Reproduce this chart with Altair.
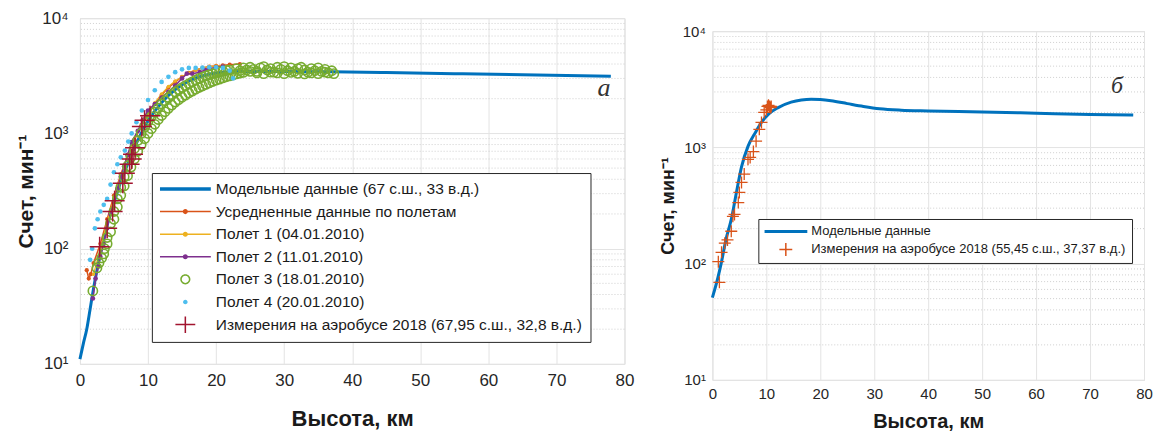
import altair as alt
import pandas as pd

# ---------------- Panel a (left) ----------------
model_a_x = [0, 0.5, 1, 1.5, 2, 2.5, 3, 4, 5, 6, 7, 8, 9, 10, 12, 14, 16, 18, 20, 24, 30, 37, 45, 55, 65, 78]
model_a_y = [11, 15, 20, 30, 45, 65, 90, 160, 250, 380, 540, 750, 1000, 1280, 1850, 2400, 2850, 3150, 3350, 3450, 3450, 3420, 3370, 3300, 3230, 3130]

avg_x = [1, 1.3, 1.6, 2, 3, 4, 5, 6, 7, 8, 9, 10, 11, 12, 13, 14, 15, 16, 17, 18, 19, 20, 21, 22, 23.5]
avg_y = [65, 55, 60, 75, 110, 180, 290, 440, 640, 880, 1150, 1450, 1800, 2150, 2500, 2800, 3100, 3350, 3550, 3700, 3800, 3850, 3900, 3950, 4000]

f1_x = [2, 3, 4, 5, 6, 7, 8, 9, 10, 11, 12, 13, 14, 15, 16, 17, 18, 19, 20, 21]
f1_y = [60, 100, 170, 280, 430, 640, 900, 1200, 1500, 1850, 2200, 2550, 2850, 3100, 3350, 3550, 3700, 3800, 3850, 3850]

f2_x = [1.9, 2.3, 2.7, 3, 3.5, 4, 4.5, 5, 5.5, 6, 6.5, 7, 7.6, 8.5, 9.2, 10, 11, 12, 13, 14, 15, 15.7, 16.5, 17.6, 18.4, 19, 20, 21]
f2_y = [37, 55, 70, 85, 110, 150, 200, 260, 330, 420, 520, 650, 840, 1050, 1300, 1580, 1800, 2050, 2300, 2600, 3000, 3300, 3300, 3400, 3550, 3650, 3750, 3800]

f3_x = [2.5, 3.2, 3.6, 4, 4.5, 5, 5.5, 6, 6.5, 7, 7.5, 8, 8.5, 9, 9.5, 10, 10.5, 11, 11.5, 12,
        12.5, 13, 13.5, 14, 14.5, 15, 15.5, 16, 16.5, 17, 17.5, 18, 18.5, 19, 19.5, 20, 20.5, 21, 21.5, 22,
        1.9, 2.8, 3.5, 4, 4.5, 5, 5.5, 6, 6.5, 7, 7.5, 8, 8.5, 9, 9.5, 10, 10.5, 11, 11.5, 12,
        12.5, 13, 13.5, 14, 14.5, 15, 15.5, 16, 16.5, 17, 17.5, 18, 18.5, 19, 19.5, 20, 20.5, 21, 21.5, 22,
        22.5, 23, 23.5, 24, 25,
        23, 23.5, 24, 24.5, 25, 25.5, 26, 26.5, 27, 27.5, 28, 28.5, 29, 29.5, 30, 30.5, 31, 31.5, 32, 32.5,
        33, 33.5, 34, 34.5, 35, 35.5, 36, 36.5, 37, 37.3,
        26, 27, 28, 29, 30, 31, 32, 33, 34, 35, 36]
f3_y = [68, 83, 100, 125, 165, 210, 270, 340, 420, 520, 620, 740, 870, 1000, 1130, 1270, 1400, 1530, 1660, 1800,
        1920, 2050, 2170, 2290, 2400, 2500, 2600, 2700, 2800, 2900, 3000, 3080, 3160, 3240, 3300, 3360, 3420, 3470, 3520, 3560,
        43, 75, 90, 110, 140, 180, 230, 290, 350, 430, 510, 600, 700, 800, 900, 1000, 1100, 1200, 1320, 1430,
        1540, 1650, 1760, 1870, 1960, 2060, 2150, 2240, 2330, 2420, 2500, 2580, 2660, 2740, 2820, 2900, 2960, 3030, 3100, 3160,
        3220, 3280, 3330, 3380, 3450,
        3650, 3500, 3700, 3550, 3750, 3600, 3450, 3700, 3800, 3550, 3650, 3400, 3750, 3600, 3800, 3500, 3700, 3450, 3650, 3750,
        3550, 3400, 3650, 3500, 3700, 3450, 3600, 3350, 3500, 3300,
        3350, 3300, 3400, 3350, 3300, 3380, 3320, 3280, 3350, 3300, 3400]

f4_x = [1.5, 1.8, 2.2, 2.6, 3, 3.5, 4, 4.5, 5, 5.5, 6, 6.6, 7.1, 7.6, 8.3, 9.1, 10, 11, 12, 13, 14, 15, 16, 17, 18, 19, 20, 21, 22, 22.5]
f4_y = [80, 100, 150, 180, 210, 240, 270, 360, 460, 540, 620, 710, 850, 1000, 1250, 1580, 1950, 2370, 2800, 3100, 3400, 3600, 3700, 3700, 3720, 3750, 3750, 3700, 3500, 3000]

bus_a_x = [2.9, 4.0, 4.8, 5.1, 6.3, 6.6, 7.3, 7.6, 7.8, 8.1, 9.1, 9.5, 10.3]
bus_a_y = [104, 150, 210, 260, 370, 450, 540, 600, 660, 750, 1150, 1300, 1420]

names_a = ["Модельные данные (67 с.ш., 33 в.д.)",
           "Усредненные данные по полетам",
           "Полет 1 (04.01.2010)",
           "Полет 2 (11.01.2010)",
           "Полет 3 (18.01.2010)",
           "Полет 4 (20.01.2010)",
           "Измерения на аэробусе 2018 (67,95 с.ш., 32,8 в.д.)"]

# ---------------- Panel b (right) ----------------
model_b_x = [0, 1, 1.7, 2.5, 3.5, 4.5, 5.4, 6.6, 8, 9.1, 10.5, 12.2, 14.6, 16.5, 18.3, 20, 22, 25, 28, 31, 35, 40, 50, 60, 70, 78]
model_b_y = [51, 75, 104, 160, 240, 420, 680, 1020, 1350, 1640, 1950, 2200, 2450, 2560, 2600, 2580, 2520, 2380, 2250, 2150, 2090, 2060, 2020, 1970, 1920, 1900]

bus_b_x = [1.1, 1.3, 1.7, 2.3, 2.8, 3.5, 3.8, 4.1, 4.8, 5.0, 5.4, 5.9, 6.6, 7.0, 7.6, 8.1, 8.7, 9.1, 9.6, 10.0, 10.2, 10.4, 10.6, 10.8, 10.9]
bus_b_y = [104, 69, 125, 150, 160, 190, 255, 265, 335, 410, 500, 590, 790, 820, 920, 1130, 1430, 1640, 2000, 2100, 2250, 2300, 2250, 2200, 2250]

names_b = ["Модельные данные", "Измерения на аэробусе 2018 (55,45 с.ш., 37,37 в.д.)"]

minor_y = [20, 30, 40, 50, 60, 70, 80, 90, 200, 300, 400, 500, 600, 700, 800, 900,
           2000, 3000, 4000, 5000, 6000, 7000, 8000, 9000]
x_ticks = [0, 10, 20, 30, 40, 50, 60, 70, 80]
y_ticks = [10, 100, 1000, 10000]

letter_a = {"x": [77.0], "y": [2500], "t": ["а"]}
letter_b = {"x": [75.0], "y": [3400], "t": ["б"]}

BLUE, ORANGE, YELLOW, PURPLE = "#0072BD", "#D95319", "#EDB120", "#7E2F8E"
GREEN, CYAN, RED = "#77AC30", "#4DBEEE", "#A2142F"
FONT = "Liberation Sans"

# legend symbol paths (filled shapes, unit square)
P_THICK = "M-1,-0.065H1V0.065H-1Z"
P_DOTLINE = "M-1,-0.03H1V0.03H-1Z M0.1,0A0.1,0.1 0 1,1 -0.1,0A0.1,0.1 0 1,1 0.1,0Z"
P_RING = "M0.2,0A0.2,0.2 0 1,1 -0.2,0A0.2,0.2 0 1,1 0.2,0Z M0.14,0A0.14,0.14 0 1,0 -0.14,0A0.14,0.14 0 1,0 0.14,0Z"
P_DOT = "M0.09,0A0.09,0.09 0 1,1 -0.09,0A0.09,0.09 0 1,1 0.09,0Z"
P_CROSS = "M-0.39,-0.03H0.39V0.03H-0.39Z M-0.03,-0.39H0.03V0.39H-0.03Z"

P_THICK_B = "M-1,-0.07H1V0.07H-1Z"
P_CROSS_B = "M-0.3,-0.035H0.3V0.035H-0.3Z M-0.035,-0.3H0.035V0.3H-0.035Z"

label_expr = ("datum.value == 10 ? '10\u00b9' : datum.value == 100 ? '10\u00b2' : "
              "datum.value == 1000 ? '10\u00b3' : '10\u2074'")


def enc_x(lfs, tfs, lp, tp):
    return alt.X("x:Q", scale=alt.Scale(domain=[0, 80], nice=False, zero=False),
                 axis=alt.Axis(values=x_ticks, title="Высота, км", labelFontSize=lfs,
                               titleFontSize=tfs, titleFontWeight="bold", labelPadding=lp,
                               titlePadding=tp, gridColor="#e3e3e3", ticks=False, domain=False,
                               labelColor="#262626", titleColor="#1a1a1a", labelFont=FONT,
                               titleFont=FONT, labelFlush=False))


def enc_y(lfs, tfs, lp, tp):
    return alt.Y("y:Q", scale=alt.Scale(type="log", domain=[10, 10000], nice=False),
                 axis=alt.Axis(values=y_ticks, labelExpr=label_expr, title="Счет, мин\u207b\u00b9",
                               labelFontSize=lfs, titleFontSize=tfs, titleFontWeight="bold",
                               labelPadding=lp, titlePadding=tp, gridColor="#e3e3e3", ticks=False,
                               domain=False, labelColor="#262626", titleColor="#1a1a1a",
                               labelFont=FONT, titleFont=FONT))


def df(x, y):
    return pd.DataFrame({"x": x, "y": y})


# ---------- left ----------
XA = enc_x(17, 22, 9, 20)
YA = enc_y(17, 21, 12, 5)

grid_a = alt.Chart(pd.DataFrame({"y": minor_y})).mark_rule(
    color="#cfcfcf", strokeDash=[1, 2], strokeWidth=1).encode(y=YA)
model_a = alt.Chart(df(model_a_x, model_a_y)).mark_line(
    color=BLUE, strokeWidth=3, interpolate="monotone").encode(x=XA, y=YA)
avg_l = alt.Chart(df(avg_x, avg_y)).mark_line(color=ORANGE, strokeWidth=1.5).encode(x=XA, y=YA)
avg_p = alt.Chart(df(avg_x, avg_y)).mark_point(color=ORANGE, filled=True, size=18, opacity=1).encode(x=XA, y=YA)
f1_l = alt.Chart(df(f1_x, f1_y)).mark_line(color=YELLOW, strokeWidth=1.2).encode(x=XA, y=YA)
f1_p = alt.Chart(df(f1_x, f1_y)).mark_point(color=YELLOW, filled=True, size=12, opacity=1).encode(x=XA, y=YA)
f2_l = alt.Chart(df(f2_x, f2_y)).mark_line(color=PURPLE, strokeWidth=1.5).encode(x=XA, y=YA)
f2_p = alt.Chart(df(f2_x, f2_y)).mark_point(color=PURPLE, filled=True, size=22, opacity=1).encode(x=XA, y=YA)
f3_p = alt.Chart(df(f3_x, f3_y)).mark_point(color=GREEN, filled=False, size=85, strokeWidth=1.6,
                                            opacity=1).encode(x=XA, y=YA)
f4_p = alt.Chart(df(f4_x, f4_y)).mark_point(color=CYAN, filled=True, size=22, opacity=1).encode(x=XA, y=YA)
bus_a = alt.Chart(df(bus_a_x, bus_a_y)).mark_point(shape="M-1,0H1M0,-1V1", color=RED, size=400,
                                                   strokeWidth=1.5, opacity=1).encode(x=XA, y=YA)
txt_a = alt.Chart(pd.DataFrame(letter_a)).mark_text(
    font="Liberation Serif", fontStyle="italic", fontSize=26, color="#333333").encode(x=XA, y=YA, text="t:N")

leg_a = alt.Legend(title=None, orient="none", legendX=72, legendY=155, direction="vertical",
                   fillColor="white", strokeColor="#262626", padding=8, symbolSize=2601,
                   clipHeight=16, rowPadding=5.6, labelFontSize=15.5, labelFont=FONT,
                   labelColor="#1a1a1a", labelLimit=0, symbolStrokeWidth=0, labelOffset=5,
                   cornerRadius=0)
dummy_a = alt.Chart(pd.DataFrame({"series": names_a})).transform_filter("false").mark_point(
    filled=True, opacity=1).encode(
    color=alt.Color("series:N", scale=alt.Scale(domain=names_a,
                    range=[BLUE, ORANGE, YELLOW, PURPLE, GREEN, CYAN, RED]), legend=leg_a),
    shape=alt.Shape("series:N", scale=alt.Scale(domain=names_a,
                    range=[P_THICK, P_DOTLINE, P_DOTLINE, P_DOTLINE, P_RING, P_DOT, P_CROSS]),
                    legend=leg_a))

left = alt.layer(grid_a, model_a, avg_l, avg_p, f1_l, f1_p, f2_l, f2_p, f3_p, f4_p, bus_a, txt_a,
                 dummy_a).properties(width=545, height=346)

# ---------- right ----------
XB = enc_x(15, 20, 7, 10)
YB = enc_y(15, 18, 7, 5)

grid_b = alt.Chart(pd.DataFrame({"y": minor_y})).mark_rule(
    color="#cfcfcf", strokeDash=[1, 2], strokeWidth=1).encode(y=YB)
model_b = alt.Chart(df(model_b_x, model_b_y)).mark_line(
    color=BLUE, strokeWidth=3, interpolate="monotone").encode(x=XB, y=YB)
bus_b = alt.Chart(df(bus_b_x, bus_b_y)).mark_point(shape="M-1,0H1M0,-1V1", color=ORANGE, size=144,
                                                   strokeWidth=1.3, opacity=1).encode(x=XB, y=YB)
txt_b = alt.Chart(pd.DataFrame(letter_b)).mark_text(
    font="Liberation Serif", fontStyle="italic", fontSize=24, color="#333333").encode(x=XB, y=YB, text="t:N")

leg_b = alt.Legend(title=None, orient="none", legendX=46, legendY=201, direction="vertical",
                   fillColor="white", strokeColor="#262626", padding=6, symbolSize=1849,
                   clipHeight=13, rowPadding=4, labelFontSize=13, labelFont=FONT,
                   labelColor="#1a1a1a", labelLimit=0, symbolStrokeWidth=0, labelOffset=4,
                   cornerRadius=0)
dummy_b = alt.Chart(pd.DataFrame({"series": names_b})).transform_filter("false").mark_point(
    filled=True, opacity=1).encode(
    color=alt.Color("series:N", scale=alt.Scale(domain=names_b, range=[BLUE, ORANGE]), legend=leg_b),
    shape=alt.Shape("series:N", scale=alt.Scale(domain=names_b, range=[P_THICK_B, P_CROSS_B]),
                    legend=leg_b))

right = alt.layer(grid_b, model_b, bus_b, txt_b, dummy_b).properties(width=432, height=349)

spacer = alt.Chart(pd.DataFrame({"s": [0]})).mark_point(opacity=0).properties(
    width=10, height=1, view=alt.ViewBackground(stroke="transparent"))

right_col = alt.vconcat(spacer, right, spacing=1)

chart = alt.hconcat(left, right_col, spacing=24).resolve_scale(
    color="independent", shape="independent").resolve_legend(
    color="independent", shape="independent").configure_view(
    stroke="#8a8a8a", strokeWidth=1).configure(
    padding={"left": 15, "top": 8, "right": 2, "bottom": 2}, background="white")

chart.save("out.html", embed_options={"renderer": "svg", "actions": False})
